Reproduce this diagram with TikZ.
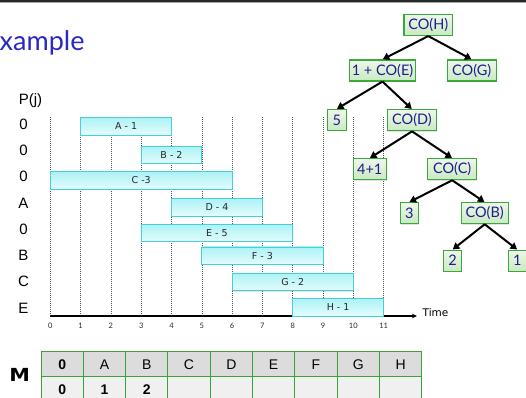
\documentclass[tikz,border=0pt]{standalone}
\usepackage{fontspec}
\usepackage{graphicx}
\setmainfont{Liberation Sans}
\newfontfamily\humanist{Lato}
\newfontfamily\ganttfont{DejaVu Sans}
\newfontfamily\heavyfont{DejaVu Sans}
\usetikzlibrary{arrows.meta,shadows}

\definecolor{jobedge}{RGB}{70,208,214}
\definecolor{jobtop}{RGB}{172,242,245}
\definecolor{jobbot}{RGB}{228,252,253}
\definecolor{treeedge}{RGB}{58,168,58}
\definecolor{treetop}{RGB}{238,247,234}
\definecolor{treebot}{RGB}{202,233,194}
\definecolor{treetext}{RGB}{30,30,140}
\definecolor{titleblue}{RGB}{40,40,195}
\definecolor{gridgrey}{RGB}{80,80,80}
\definecolor{tablegreen}{RGB}{60,160,60}
\definecolor{headfill}{RGB}{220,220,220}
\definecolor{bodyfill}{RGB}{240,240,240}

\begin{document}
\begin{tikzpicture}[x=1pt,y=-1pt,
  jobbox/.style={draw=jobedge, line width=0.8pt, top color=jobtop, bottom color=jobbot,
    minimum height=17.5pt, inner sep=0pt, text=black!85,
    font=\ganttfont\fontsize{9.5}{11}\selectfont,
    drop shadow={shadow xshift=0.4pt, shadow yshift=-0.9pt, opacity=0.22}},
  gridline/.style={gridgrey, dash pattern=on 1pt off 1pt, line width=0.5pt},
  axisline/.style={line width=1.3pt, -{Stealth[length=5pt,width=4.5pt]}},
  ticklabel/.style={inner sep=0pt, text=black!85, font=\humanist\fontsize{7.5}{8}\selectfont},
  rowlabel/.style={inner sep=0pt, font=\fontsize{15}{17}\selectfont},
  treebox/.style={draw=treeedge, line width=1.1pt, top color=treetop, bottom color=treebot,
    minimum height=21pt, inner sep=0pt, text=treetext,
    font=\humanist\fontsize{14.5}{16}\selectfont,
    drop shadow={shadow xshift=0.6pt, shadow yshift=-0.8pt, opacity=0.22}},
  treearrow/.style={line width=2pt, -{Triangle[length=6.5pt,width=7.5pt]}, shorten >=0.3pt},
  cell/.style={draw=tablegreen, line width=0.9pt, minimum width=42.3pt, minimum height=25pt,
    inner sep=0pt, font=\fontsize{14}{16}\selectfont},
  cellbold/.style={cell, font=\fontsize{14}{16}\selectfont\bfseries}
]
\useasboundingbox (0,0) rectangle (526,397);

% top rule
\fill[black!85] (0,0) rectangle (526,2.4);
\fill[black!35] (0,2.4) rectangle (526,3.1);

% title
\node[anchor=base west, inner sep=0pt, text=titleblue,
      font=\humanist\fontsize{27}{30}\selectfont] (title) at (-0.5,50) {xample};

% time grid
\foreach \t in {0,...,11} {
  \coordinate (gt\t) at ({50.3+30.3*\t},117);
  \coordinate (gb\t) at ({50.3+30.3*\t},316);
  \draw[gridline] (gt\t) -- (gb\t);
  \node[ticklabel] (tick\t) at ({50.3+30.3*\t},326) {\t};
}

% time axis
\coordinate (origin) at (50.3,316);
\coordinate (timeend) at (417,316);
\draw[axisline] (origin) -- (timeend);
\node[anchor=west, inner sep=0pt, font=\ganttfont\fontsize{10.5}{12}\selectfont] (timelabel) at (422.5,313) {Time};

% jobs
\foreach \n/\s/\e/\y/\lab in {A/1/4/126.2/A - 1, B/3/5/154.8/B - 2, C/0/6/180.5/C -3,
    D/4/7/207.2/D - 4, E/3/8/232.8/E - 5, F/5/9/255.7/F - 3, G/6/10/282/G - 2, H/8/11/307.2/H - 1}
  \node[jobbox, minimum width={(\e-\s)*30.3pt}] (job\n) at ({50.3+(\s+\e)*15.15},\y) {\lab};

% predecessor column
\node[rowlabel] (pj) at (30.5,101) {P(j)};
\foreach \lab [count=\i from 0] in {0,0,0,A,0,B,C,E}
  \node[rowlabel] (p\i) at (23.5,{124+26.3*\i}) {\lab};

% recursion tree
\node[treebox, minimum width=48.7pt] (coH) at (428.3,25) {CO(H)};
\node[treebox, minimum width=66.4pt] (coE) at (382.5,70.5) {1 + CO(E)};
\node[treebox, minimum width=48.7pt] (coG) at (471.7,70.5) {CO(G)};
\node[treebox, minimum width=18.7pt] (five) at (336.7,120) {5};
\node[treebox, minimum width=49.4pt] (coD) at (412,120.3) {CO(D)};
\node[treebox, minimum width=32.7pt] (fourone) at (369.7,169.2) {4+1};
\node[treebox, minimum width=49pt] (coC) at (452.2,169.2) {CO(C)};
\node[treebox, minimum width=18.3pt] (three) at (409.2,213.2) {3};
\node[treebox, minimum width=47.3pt] (coB) at (484.7,213.2) {CO(B)};
\node[treebox, minimum width=18.4pt] (two) at (452.5,260.7) {2};
\node[treebox, minimum width=18.4pt] (one) at (517.3,260.7) {1};

\foreach \p/\c in {coH/coE, coH/coG, coE/five, coE/coD, coD/fourone, coD/coC,
    coC/three, coC/coB, coB/two, coB/one}
  \draw[treearrow] (\p.south) -- (\c.north);

% memo table
\node[inner sep=0pt, font=\heavyfont\bfseries\fontsize{18}{20}\selectfont] (mlabel) at (19.7,375.3) {\scalebox{1.15}[1]{M}};
\node[cellbold, fill=headfill] (h0) at (62.15,364.2) {0};
\foreach \lab [count=\i] in {A,B,C,D,E,F,G,H}
  \node[cell, fill=headfill] (h\i) at ({62.15+42.3*\i},364.2) {\lab};
\node[cellbold, fill=bodyfill] (r0) at (62.15,389.2) {0};
\node[cellbold, fill=bodyfill] (r1) at (104.45,389.2) {1};
\node[cellbold, fill=bodyfill] (r2) at (146.75,389.2) {2};
\foreach \i in {3,...,8}
  \node[cell, fill=bodyfill] (r\i) at ({62.15+42.3*\i},389.2) {};
\end{tikzpicture}
\end{document}
